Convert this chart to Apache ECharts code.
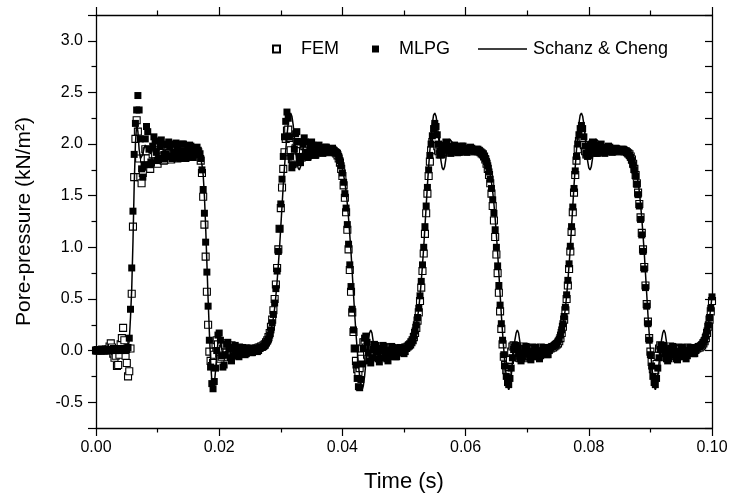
<!DOCTYPE html>
<html><head><meta charset="utf-8">
<script src="https://cdn.jsdelivr.net/npm/echarts@6/dist/echarts.min.js"></script>
<style>html,body{margin:0;padding:0;background:#fff}#c{width:730px;height:499px}</style>
</head><body><div id="c"></div>
<script>
// time step between samples (s); sample i is at t = i * T_STEP, t from 0 to 0.1
const T_STEP = 0.0002;
const xTickLabels = ['0.00','0.02','0.04','0.06','0.08','0.10'];
const yTickLabels = ['-0.5','0.0','0.5','1.0','1.5','2.0','2.5','3.0'];
const seriesNames = ['FEM','MLPG','Schanz & Cheng'];

// Schanz & Cheng (analytical) pore pressure, kN/m^2
const schanz = [
0,0,0,0,0,0,0,0,0,0,
0,0,0,0,0,0,0,0,0,0,
0,0,0,0,0,0,0.02,0.1,0.32,0.6,
1.05,1.6,2.0,2.2,2.12,1.95,1.86,1.85,1.9,1.96,
1.99,1.98,1.95,1.92,1.91,1.93,1.95,1.96,1.96,1.95,
1.94,1.94,1.95,1.95,1.95,1.95,1.94,1.94,1.95,1.95,
1.95,1.95,1.95,1.94,1.94,1.95,1.95,1.95,1.95,1.95,
1.95,1.95,1.95,1.95,1.94,1.94,1.94,1.94,1.94,1.94,
1.93,1.93,1.92,1.91,1.89,1.86,1.8,1.7,1.5,1.2,
0.85,0.5,0.18,-0.1,-0.29,-0.37,-0.33,-0.2,-0.04,0.08,
0.13,0.1,0.02,-0.05,-0.08,-0.06,-0.02,0.02,0.03,0.02,
0,-0.02,-0.02,-0.01,0,0.01,0.01,0,0,0,
0,0,0,0,0,0,0,0,0,0,
0,0.01,0.01,0.02,0.02,0.03,0.04,0.05,0.06,0.08,
0.1,0.14,0.19,0.25,0.32,0.41,0.53,0.67,0.83,1.0,
1.2,1.4,1.6,1.78,1.94,2.08,2.2,2.28,2.3,2.27,
2.19,2.07,1.95,1.84,1.77,1.75,1.78,1.86,1.95,2.02,
2.05,2.05,2.02,1.97,1.92,1.89,1.89,1.91,1.94,1.97,
1.99,1.99,1.97,1.95,1.93,1.93,1.94,1.95,1.95,1.94,
1.94,1.93,1.93,1.92,1.91,1.9,1.89,1.87,1.84,1.81,
1.76,1.7,1.63,1.54,1.42,1.28,1.12,0.95,0.75,0.55,
0.35,0.17,0.01,-0.13,-0.25,-0.34,-0.38,-0.34,-0.25,-0.12,
0,0.1,0.17,0.2,0.17,0.09,0,-0.07,-0.1,-0.1,
-0.07,-0.02,0.03,0.06,0.06,0.04,0.01,-0.02,-0.04,-0.04,
-0.02,0,0.02,0.02,0.01,0,0,0,0.01,0.01,
0.02,0.02,0.03,0.04,0.05,0.06,0.08,0.1,0.14,0.19,
0.25,0.32,0.41,0.53,0.67,0.83,1.0,1.2,1.4,1.6,
1.78,1.94,2.08,2.2,2.28,2.3,2.27,2.19,2.07,1.95,
1.84,1.77,1.75,1.78,1.86,1.95,2.02,2.05,2.05,2.02,
1.97,1.92,1.89,1.89,1.91,1.94,1.97,1.99,1.99,1.97,
1.95,1.93,1.93,1.94,1.95,1.96,1.95,1.95,1.94,1.94,
1.93,1.93,1.92,1.91,1.9,1.89,1.87,1.84,1.81,1.76,
1.7,1.63,1.54,1.42,1.28,1.12,0.95,0.75,0.55,0.35,
0.17,0.01,-0.13,-0.25,-0.34,-0.38,-0.34,-0.25,-0.12,0,
0.1,0.17,0.2,0.17,0.09,0,-0.07,-0.1,-0.1,-0.07,
-0.02,0.03,0.06,0.06,0.04,0.01,-0.02,-0.04,-0.04,-0.02,
0,0.02,0.02,0.01,0,0,0,0.01,0.01,0.02,
0.02,0.03,0.04,0.05,0.06,0.08,0.1,0.14,0.19,0.25,
0.32,0.41,0.53,0.67,0.83,1.0,1.2,1.4,1.6,1.78,
1.94,2.08,2.2,2.28,2.3,2.27,2.19,2.07,1.95,1.84,
1.77,1.75,1.78,1.86,1.95,2.02,2.05,2.05,2.02,1.97,
1.92,1.89,1.89,1.91,1.94,1.97,1.99,1.99,1.97,1.95,
1.93,1.93,1.94,1.95,1.96,1.95,1.95,1.94,1.94,1.93,
1.93,1.92,1.91,1.9,1.89,1.87,1.84,1.81,1.76,1.7,
1.63,1.54,1.42,1.28,1.12,0.95,0.75,0.55,0.35,0.17,
0.01,-0.13,-0.25,-0.34,-0.38,-0.34,-0.25,-0.12,0,0.1,
0.17,0.2,0.17,0.09,0,-0.07,-0.1,-0.1,-0.07,-0.02,
0.03,0.06,0.06,0.04,0.01,-0.02,-0.04,-0.04,-0.02,0,
0.02,0.02,0.01,0,0,0.01,0.01,0.02,0.02,0.03,
0.04,0.05,0.06,0.08,0.1,0.14,0.19,0.25,0.32,0.41,
0.53];

// MLPG results (filled squares)
const mlpg = [
0,0.01,0,0,0.01,0,0,0.01,0,0,
0.01,0,0,0.01,0.02,0.01,0,0.01,0.02,0.01,
0,0.01,0.02,0.01,0,0.01,0.03,0.12,0.4,0.8,
1.35,1.9,2.2,2.33,2.47,2.33,2.05,1.76,1.68,1.8,
2.05,2.17,2.12,1.95,1.8,1.82,1.98,2.07,2.03,1.92,
1.84,1.86,1.98,2.04,2.0,1.9,1.86,1.9,1.99,2.02,
1.97,1.88,1.86,1.92,2.0,2.01,1.95,1.87,1.86,1.93,
2.0,2.0,1.93,1.86,1.87,1.94,1.99,1.98,1.92,1.87,
1.9,1.95,1.97,1.94,1.9,1.86,1.75,1.56,1.33,1.05,
0.76,0.43,0.1,-0.16,-0.32,-0.37,-0.3,-0.17,0,0.15,
0.17,0.1,-0.05,-0.16,-0.14,-0.04,0.06,0.08,0.02,-0.07,
-0.1,-0.05,0.03,0.05,0.01,-0.05,-0.06,-0.02,0.03,0.03,
-0.01,-0.04,-0.03,0.01,0.02,0,-0.02,-0.02,0,0.02,
0.01,-0.01,0,0.02,0.03,0.03,0.04,0.05,0.07,0.09,
0.11,0.15,0.2,0.27,0.35,0.46,0.6,0.77,0.96,1.18,
1.42,1.66,1.88,2.07,2.22,2.31,2.25,2.07,1.88,1.77,
1.8,1.95,2.1,2.12,2.02,1.88,1.82,1.88,2.0,2.06,
2.02,1.92,1.87,1.9,1.98,2.02,1.99,1.92,1.89,1.92,
1.97,1.99,1.96,1.92,1.91,1.94,1.97,1.97,1.94,1.92,
1.93,1.95,1.96,1.94,1.92,1.92,1.91,1.88,1.84,1.79,
1.72,1.63,1.52,1.38,1.22,1.03,0.83,0.62,0.4,0.2,
0.02,-0.14,-0.27,-0.35,-0.36,-0.28,-0.13,0.02,0.12,0.14,
0.08,-0.02,-0.1,-0.12,-0.07,0.01,0.06,0.05,-0.01,-0.08,
-0.11,-0.07,0,0.05,0.04,-0.02,-0.08,-0.1,-0.06,0,
0.04,0.03,-0.02,-0.06,-0.06,-0.02,0.02,0.03,0.01,-0.02,
-0.03,-0.01,0.02,0.04,0.05,0.06,0.08,0.1,0.14,0.19,
0.25,0.32,0.41,0.53,0.67,0.83,1.0,1.2,1.4,1.58,
1.75,1.89,2.0,2.08,2.15,2.2,2.17,2.09,2.0,1.93,
1.9,1.9,1.94,1.99,2.02,2.01,1.97,1.93,1.91,1.93,
1.97,1.99,1.98,1.95,1.92,1.92,1.95,1.98,1.98,1.96,
1.93,1.92,1.94,1.96,1.97,1.96,1.94,1.93,1.94,1.95,
1.95,1.94,1.92,1.91,1.9,1.88,1.86,1.83,1.79,1.73,
1.66,1.57,1.46,1.33,1.17,1.0,0.82,0.63,0.44,0.26,
0.1,-0.04,-0.15,-0.25,-0.31,-0.33,-0.27,-0.17,-0.07,0.01,
0.05,0.05,0.02,-0.03,-0.08,-0.1,-0.08,-0.03,0.02,0.04,
0.02,-0.03,-0.08,-0.09,-0.06,-0.01,0.03,0.03,-0.01,-0.06,
-0.08,-0.05,0,0.03,0.03,-0.01,-0.04,-0.04,0,0.03,
0.04,0.04,0.05,0.06,0.07,0.09,0.11,0.15,0.2,0.26,
0.33,0.42,0.54,0.68,0.84,1.01,1.2,1.39,1.57,1.74,
1.88,2.0,2.09,2.15,2.18,2.15,2.07,1.98,1.91,1.88,
1.89,1.94,2.0,2.02,2.0,1.95,1.91,1.91,1.95,1.99,
2.0,1.97,1.93,1.91,1.93,1.96,1.98,1.97,1.94,1.92,
1.93,1.95,1.96,1.95,1.94,1.93,1.94,1.95,1.95,1.94,
1.93,1.92,1.91,1.89,1.87,1.84,1.8,1.75,1.69,1.61,
1.51,1.4,1.27,1.12,0.96,0.79,0.61,0.43,0.26,0.1,
-0.04,-0.15,-0.25,-0.31,-0.33,-0.27,-0.17,-0.07,0.01,0.05,
0.05,0.02,-0.03,-0.08,-0.1,-0.08,-0.03,0.02,0.04,0.02,
-0.03,-0.08,-0.09,-0.06,-0.01,0.03,0.03,-0.01,-0.06,-0.08,
-0.05,0,0.03,0.03,0,-0.03,-0.03,0,0.03,0.04,
0.04,0.05,0.06,0.08,0.1,0.14,0.19,0.25,0.32,0.41,
0.52];

// FEM results (open squares)
const fem = [
0,0,0,0,0,0.01,0,0,0.01,0,
0.01,0.04,0.07,0.03,-0.03,-0.07,-0.05,-0.15,-0.14,-0.04,
0.06,0.12,0.22,0.1,-0.05,-0.12,-0.25,-0.2,0.02,0.55,
1.2,1.68,2.05,2.23,2.12,1.86,1.68,1.62,1.72,1.86,
1.95,1.93,1.86,1.78,1.76,1.82,1.9,1.94,1.9,1.83,
1.81,1.86,1.92,1.93,1.88,1.84,1.85,1.9,1.93,1.91,
1.87,1.85,1.88,1.92,1.93,1.9,1.86,1.87,1.91,1.93,
1.92,1.89,1.87,1.89,1.92,1.94,1.92,1.9,1.9,1.92,
1.94,1.94,1.93,1.92,1.9,1.84,1.72,1.49,1.22,0.91,
0.57,0.25,-0.01,-0.1,-0.15,-0.12,-0.04,0.06,0.1,0.06,
-0.03,-0.08,-0.06,0.02,0.07,0.05,-0.02,-0.06,-0.04,0.02,
0.05,0.03,-0.02,-0.04,-0.02,0.02,0.03,0.01,-0.02,-0.02,
0,0.02,0.02,0,-0.01,0,0.01,0.02,0.01,0.01,
0.02,0.02,0.03,0.03,0.04,0.04,0.05,0.06,0.08,0.1,
0.13,0.17,0.23,0.3,0.39,0.5,0.64,0.8,0.98,1.18,
1.38,1.58,1.76,1.92,2.05,2.13,2.14,2.06,1.94,1.85,
1.82,1.87,1.96,2.02,2.0,1.93,1.87,1.87,1.93,1.98,
1.98,1.93,1.89,1.9,1.94,1.97,1.96,1.92,1.9,1.92,
1.95,1.96,1.94,1.92,1.92,1.94,1.95,1.95,1.93,1.92,
1.93,1.94,1.94,1.93,1.92,1.91,1.89,1.86,1.82,1.76,
1.69,1.6,1.48,1.34,1.17,0.98,0.78,0.57,0.37,0.18,
0.02,-0.1,-0.18,-0.21,-0.17,-0.08,0.02,0.08,0.08,0.03,
-0.04,-0.08,-0.07,-0.02,0.03,0.05,0.03,-0.02,-0.06,-0.06,
-0.02,0.03,0.04,0.02,-0.02,-0.05,-0.04,0,0.03,0.03,
0,-0.03,-0.03,-0.01,0.01,0.02,0.02,0.01,0.01,0.02,
0.02,0.03,0.03,0.04,0.05,0.06,0.08,0.1,0.13,0.17,
0.22,0.29,0.37,0.48,0.61,0.77,0.94,1.13,1.33,1.52,
1.69,1.83,1.94,2.02,2.07,2.08,2.04,1.98,1.93,1.9,
1.9,1.93,1.96,1.98,1.97,1.94,1.92,1.92,1.94,1.96,
1.97,1.95,1.93,1.92,1.93,1.95,1.96,1.95,1.94,1.93,
1.93,1.94,1.95,1.95,1.94,1.93,1.93,1.94,1.94,1.94,
1.93,1.93,1.92,1.91,1.9,1.88,1.85,1.81,1.76,1.7,
1.62,1.52,1.4,1.26,1.1,0.93,0.75,0.56,0.38,0.21,
0.06,-0.06,-0.14,-0.19,-0.2,-0.16,-0.09,-0.01,0.04,0.05,
0.03,-0.01,-0.05,-0.07,-0.05,-0.01,0.03,0.04,0.02,-0.02,
-0.05,-0.05,-0.02,0.02,0.03,0.02,-0.01,-0.04,-0.04,-0.01,
0.02,0.03,0.01,-0.01,-0.02,-0.01,0.01,0.02,0.02,0.02,
0.03,0.03,0.04,0.05,0.06,0.07,0.09,0.12,0.17,0.23,
0.3,0.39,0.5,0.63,0.79,0.96,1.15,1.34,1.53,1.7,
1.84,1.95,2.03,2.08,2.09,2.05,1.99,1.93,1.9,1.9,
1.93,1.96,1.98,1.97,1.94,1.92,1.92,1.94,1.96,1.97,
1.95,1.93,1.92,1.93,1.95,1.96,1.95,1.94,1.93,1.93,
1.94,1.95,1.95,1.94,1.93,1.93,1.94,1.94,1.94,1.93,
1.93,1.92,1.91,1.9,1.88,1.85,1.81,1.76,1.7,1.62,
1.53,1.42,1.29,1.14,0.98,0.81,0.63,0.45,0.28,0.12,
-0.01,-0.11,-0.18,-0.21,-0.19,-0.13,-0.05,0.02,0.05,0.04,
0,-0.04,-0.06,-0.05,-0.01,0.03,0.04,0.02,-0.02,-0.05,
-0.05,-0.02,0.02,0.03,0.02,-0.01,-0.04,-0.04,-0.01,0.02,
0.03,0.01,-0.01,-0.02,-0.01,0.01,0.02,0.02,0.02,0.03,
0.03,0.04,0.05,0.07,0.09,0.12,0.17,0.23,0.3,0.38,
0.48];

const pairs = arr => arr.map((v, i) => [Math.round(i * T_STEP * 1e5) / 1e5, v]);
const FONT = '"Liberation Sans", Arial, Helvetica, sans-serif';
const yLabelSet = new Set(yTickLabels);
const xLabelSet = new Set(xTickLabels);

const chart = echarts.init(document.getElementById('c'), null, {renderer: 'canvas'});
const axisLineStyle = {color: '#000', width: 1.3};
const tickStyle = {color: '#000', width: 1.2};

const xBase = {
  type: 'value', min: 0, max: 0.1, interval: 0.02,
  axisLine: {show: true, onZero: false, lineStyle: axisLineStyle},
  axisTick: {show: true, inside: false, length: 8, lineStyle: tickStyle},
  minorTick: {show: true, splitNumber: 2, length: 4.5, lineStyle: tickStyle},
  splitLine: {show: false}, minorSplitLine: {show: false}
};
const yBase = {
  type: 'value', min: -0.75, max: 3.25, splitNumber: 8,
  axisLine: {show: true, onZero: false, lineStyle: axisLineStyle},
  axisTick: {show: true, inside: false, length: 8, lineStyle: tickStyle},
  minorTick: {show: true, splitNumber: 2, length: 4.5, lineStyle: tickStyle},
  splitLine: {show: false}, minorSplitLine: {show: false}
};
const legendText = p => ({fontSize: 18, fontFamily: FONT, color: '#000', padding: [0, 0, 0, p]});

chart.setOption({
  animation: false,
  backgroundColor: '#fff',
  textStyle: {fontFamily: FONT, color: '#000'},
  grid: {left: 96, right: 18, top: 15, bottom: 71, containLabel: false, outerBoundsMode: 'none'},
  legend: [
    {data: [seriesNames[0]], left: 272, top: 40, padding: 0, itemWidth: 7, itemHeight: 7,
     textStyle: legendText(16)},
    {data: [seriesNames[1]], left: 372, top: 40, padding: 0, itemWidth: 7, itemHeight: 7,
     textStyle: legendText(15)},
    {data: [{name: seriesNames[2], icon: 'rect'}], left: 478, top: 40, padding: 0,
     itemWidth: 49, itemHeight: 1.5, itemStyle: {color: '#000', borderWidth: 0},
     textStyle: legendText(1)}
  ],
  xAxis: [
    Object.assign({}, xBase, {
      position: 'bottom',
      axisLabel: {show: true, fontSize: 16, fontFamily: FONT, color: '#000', margin: 12,
        formatter: v => { const s = v.toFixed(2); return xLabelSet.has(s) ? s : ''; }},
      name: 'Time (s)', nameLocation: 'middle', nameGap: 43,
      nameTextStyle: {fontSize: 22, fontFamily: FONT, color: '#000'}
    }),
    Object.assign({}, xBase, {position: 'top', axisLabel: {show: false}})
  ],
  yAxis: [
    Object.assign({}, yBase, {
      position: 'left',
      axisLabel: {show: true, fontSize: 16, fontFamily: FONT, color: '#000', margin: 13,
        showMinLabel: false, showMaxLabel: false,
        formatter: v => { const s = v.toFixed(1); return (yLabelSet.has(s) && Math.abs(v * 2 - Math.round(v * 2)) < 1e-6) ? s : ''; }},
      name: 'Pore-pressure (kN/m\u00B2)', nameLocation: 'middle', nameGap: 61,
      nameTextStyle: {fontSize: 21, fontFamily: FONT, color: '#000'}
    }),
    Object.assign({}, yBase, {position: 'right',
      axisTick: {show: true, inside: true, length: 7, lineStyle: tickStyle},
      minorTick: {show: true, splitNumber: 2, length: 7, lineStyle: tickStyle},
      axisLabel: {show: false}})
  ],
  series: [
    {name: seriesNames[0], type: 'scatter', xAxisIndex: 0, yAxisIndex: 0, z: 2,
     symbol: 'rect', symbolSize: 7,
     itemStyle: {color: '#fff', borderColor: '#000', borderWidth: 1.1, opacity: 1},
     data: pairs(fem)},
    {name: seriesNames[1], type: 'scatter', xAxisIndex: 0, yAxisIndex: 0, z: 3,
     symbol: 'rect', symbolSize: 7,
     itemStyle: {color: '#000', borderColor: '#000', borderWidth: 0, opacity: 1},
     data: pairs(mlpg)},
    {name: seriesNames[2], type: 'line', xAxisIndex: 0, yAxisIndex: 0, z: 4,
     showSymbol: false, symbol: 'none',
     lineStyle: {color: '#000', width: 1.5},
     itemStyle: {color: '#000'},
     data: pairs(schanz)}
  ]
});
</script>
</body></html>
